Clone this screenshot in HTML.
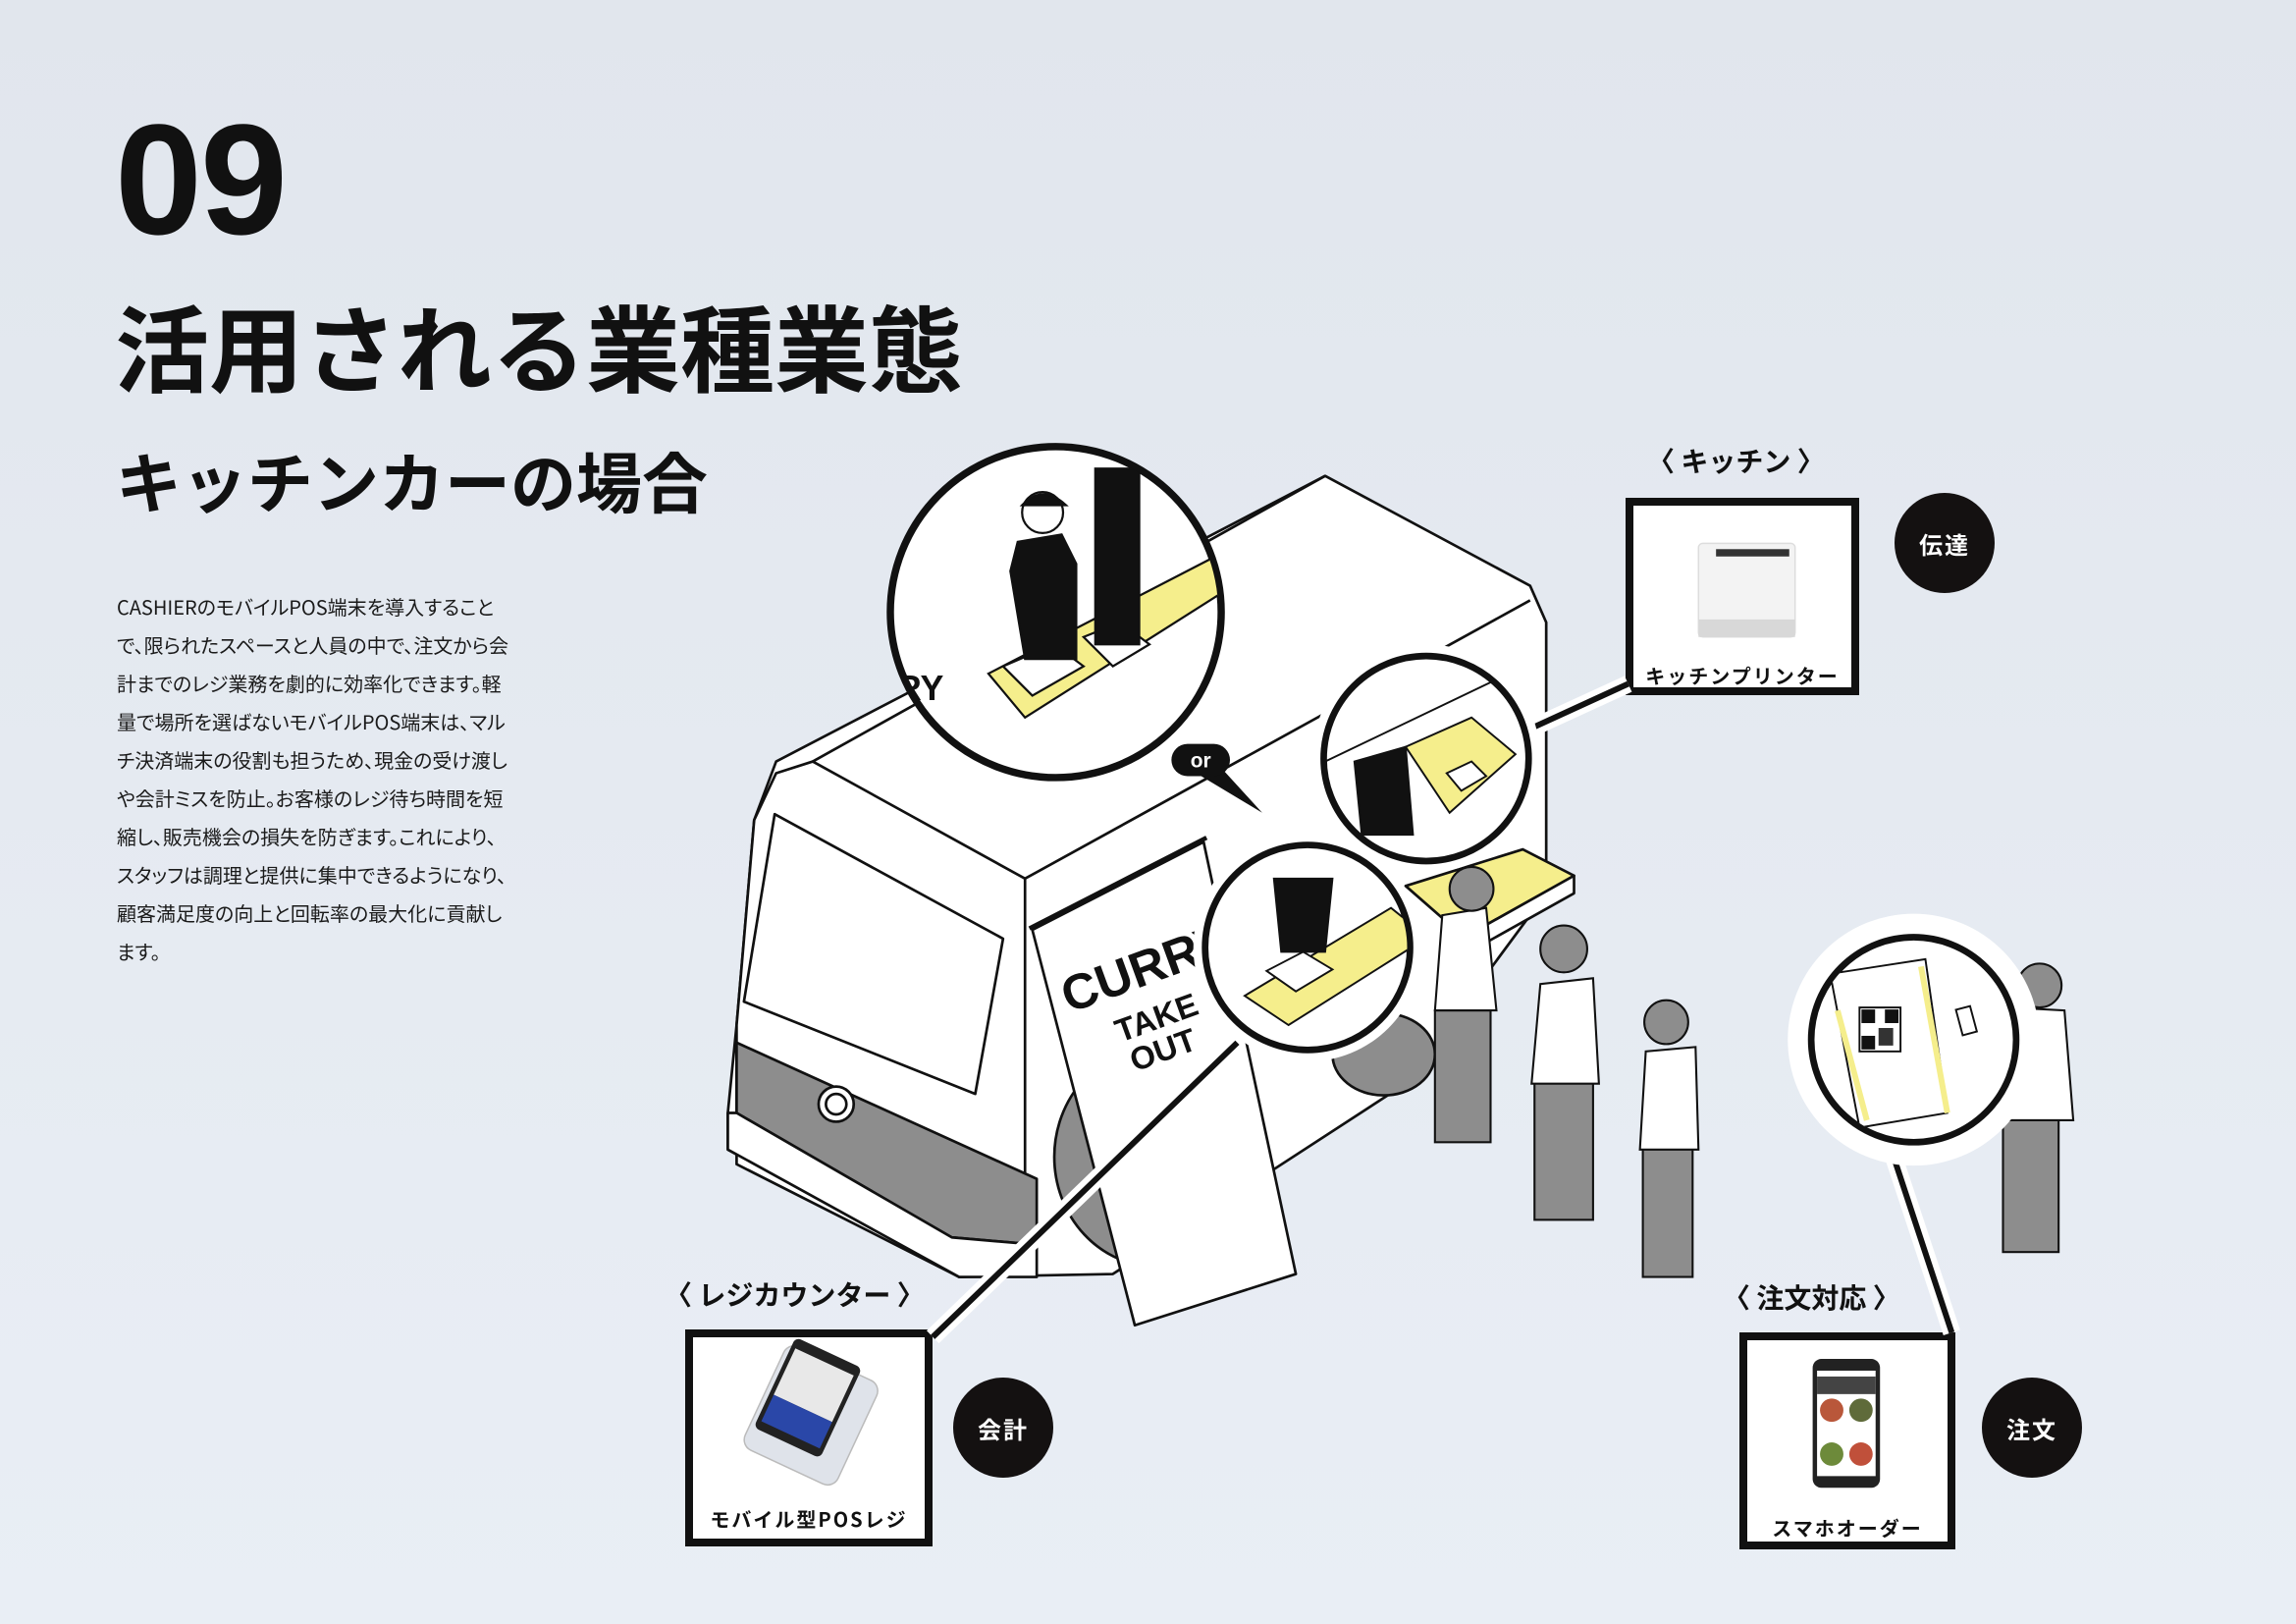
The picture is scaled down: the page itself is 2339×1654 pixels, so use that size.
<!DOCTYPE html>
<html><head><meta charset="utf-8">
<style>
html,body{margin:0;padding:0}
body{width:2339px;height:1654px;position:relative;overflow:hidden;background:linear-gradient(180deg,#e1e6ed 0%,#e6ebf2 60%,#e9eef5 100%);font-family:"Liberation Sans","Noto Sans CJK JP",sans-serif;color:#111}
.a{position:absolute;white-space:nowrap;line-height:1}
.jp{font-family:"Noto Sans CJK JP","Liberation Sans",sans-serif}
.body{position:absolute;left:119px;top:598px;font-size:20px;line-height:39px;letter-spacing:0px;color:#1a1a1a;font-feature-settings:"palt";white-space:nowrap}
.box{position:absolute;background:#fff;border:8px solid #111;box-sizing:border-box;z-index:1}
.cap{position:absolute;left:0;right:0;text-align:center;font-weight:700;font-size:20px;letter-spacing:2px}
.lab{font-size:28px;font-weight:700}
.dot{position:absolute;width:102px;height:102px;border-radius:50%;background:#141111;color:#fff;font-size:24px;font-weight:700;display:flex;align-items:center;justify-content:center;letter-spacing:2px}
svg{position:absolute;left:0;top:0;z-index:2}
</style></head><body>
<div class="box" style="left:1656px;top:507px;width:238px;height:201px"><div class="cap jp" style="top:158px">キッチンプリンター</div></div>
<div class="box" style="left:698px;top:1354px;width:252px;height:221px"><div class="cap jp" style="top:170px">モバイル型POSレジ</div></div>
<div class="box" style="left:1772px;top:1357px;width:220px;height:221px"><div class="cap jp" style="top:176px">スマホオーダー</div></div>
<svg width="2339" height="1654" viewBox="0 0 1568 1109">
<g stroke="#111" stroke-width="1.8" stroke-linejoin="round">
<polygon fill="#fff" points="530,520 905,325 1045,400 1056,425 1056,610 960,740 760,870 655,872 497,785 497,760 503,700 515,560"/>
<polygon fill="#fff" points="515,560 530,528 555,520 700,600 700,870 655,872 503,795 503,700"/>
<polygon fill="#fff" points="529,556 685,641 666,747 508,684"/>
<polygon fill="#8d8d8d" points="503,712 708,805 708,850 650,845 503,760"/>
<polygon fill="#fff" points="497,760 503,760 650,845 708,850 708,872 655,872 497,785"/>
<circle cx="571" cy="754" r="12" fill="#fff"/><circle cx="571" cy="754" r="7" fill="#fff"/>
<line x1="555" y1="520" x2="905" y2="325"/>
<line x1="700" y1="600" x2="1045" y2="410"/>
<ellipse cx="790" cy="790" rx="70" ry="75" fill="#8d8d8d"/>
<ellipse cx="800" cy="780" rx="55" ry="60" fill="#fff"/>
<ellipse cx="945" cy="720" rx="35" ry="28" fill="#8d8d8d"/>
<polygon fill="#f5ee8c" points="960,605 1040,580 1075,598 1000,640"/>
<polygon fill="#fff" points="1000,640 1075,598 1075,610 1000,652"/>
<polygon fill="#fff" points="705,635 822,575 885,870 775,905"/>
<line x1="703" y1="634" x2="824" y2="572" stroke-width="3"/>
</g>
<g font-family="Liberation Sans,sans-serif" font-weight="700" fill="#111">
<text x="730" y="692" font-size="34" transform="rotate(-20 730 692)">CURRY</text>
<text x="765" y="712" font-size="22" transform="rotate(-20 765 712)">TAKE</text>
<text x="775" y="732" font-size="22" transform="rotate(-20 775 732)">OUT</text>
</g>
<g stroke="#111" stroke-width="1.4">
<g><rect x="980" y="690" width="38" height="90" fill="#8d8d8d"/><path d="M980 690 L985 625 L1015 620 L1022 690Z" fill="#fff"/><circle cx="1005" cy="607" r="15" fill="#8d8d8d"/></g>
<g><rect x="1048" y="738" width="40" height="95" fill="#8d8d8d"/><path d="M1046 740 L1052 672 L1088 668 L1092 740Z" fill="#fff"/><circle cx="1068" cy="648" r="16" fill="#8d8d8d"/></g>
<g><rect x="1122" y="782" width="34" height="90" fill="#8d8d8d"/><path d="M1120 785 L1124 718 L1158 715 L1160 785Z" fill="#fff"/><circle cx="1138" cy="698" r="15" fill="#8d8d8d"/></g>
<g><rect x="1368" y="760" width="38" height="95" fill="#8d8d8d"/><path d="M1366 765 L1372 688 L1410 690 L1416 765Z" fill="#fff"/><circle cx="1393" cy="673" r="15" fill="#8d8d8d"/></g>
</g>
<g stroke-linecap="butt">
<line x1="1040" y1="500" x2="1112" y2="467" stroke="#fff" stroke-width="12"/>
<line x1="1040" y1="500" x2="1112" y2="467" stroke="#111" stroke-width="4"/>
<line x1="845" y1="712" x2="637" y2="913" stroke="#fff" stroke-width="12"/>
<line x1="845" y1="712" x2="637" y2="913" stroke="#111" stroke-width="4"/>
<line x1="1290" y1="780" x2="1333" y2="910" stroke="#fff" stroke-width="12"/>
<line x1="1290" y1="780" x2="1333" y2="910" stroke="#111" stroke-width="4"/>
</g>
<polygon points="830,520 862,555 812,525" fill="#111"/>
<rect x="800" y="508" width="40" height="22" rx="11" fill="#111"/>
<text x="820" y="524" font-family="Liberation Sans,sans-serif" font-weight="700" font-size="14" fill="#fff" text-anchor="middle">or</text>
<circle cx="721" cy="418" r="113" fill="#fff" stroke="#111" stroke-width="5"/>
<clipPath id="c1"><circle cx="721" cy="418" r="111"/></clipPath>
<g clip-path="url(#c1)" stroke="#111" stroke-width="1.5">
<polygon points="675,460 830,380 850,395 700,490" fill="#f5ee8c"/>
<polygon points="685,455 720,440 740,455 705,475" fill="#fff"/>
<polygon points="740,435 765,425 785,440 760,455" fill="#fff"/>
<path d="M690 390 L695 370 L725 365 L735 385 L735 450 L700 450Z" fill="#111"/>
<circle cx="712" cy="350" r="14" fill="#fff"/>
<path d="M698 345 Q712 330 728 345Z" fill="#111"/>
<rect x="748" y="320" width="30" height="120" fill="#111"/>
<text x="612" y="478" font-family="Liberation Sans,sans-serif" font-weight="700" font-size="24" fill="#111" stroke="none">RY</text>
</g>
<circle cx="974" cy="518" r="78" fill="#fff"/>
<circle cx="974" cy="518" r="70" fill="#fff" stroke="#111" stroke-width="4.5"/>
<clipPath id="c2"><circle cx="974" cy="518" r="68"/></clipPath>
<g clip-path="url(#c2)" stroke="#111" stroke-width="1.3">
<polygon points="960,510 1005,490 1035,515 990,555" fill="#f5ee8c"/>
<path d="M925 520 L960 510 L965 570 L930 570Z" fill="#111"/>
<polygon points="988,528 1005,520 1015,530 998,540" fill="#fff"/>
<line x1="905" y1="520" x2="1020" y2="465"/>
</g>
<circle cx="893" cy="647" r="78" fill="#fff"/>
<circle cx="893" cy="647" r="70" fill="#fff" stroke="#111" stroke-width="4.5"/>
<clipPath id="c3"><circle cx="893" cy="647" r="68"/></clipPath>
<g clip-path="url(#c3)" stroke="#111" stroke-width="1.3">
<polygon points="850,680 950,620 975,640 880,700" fill="#f5ee8c"/>
<polygon points="865,663 890,650 910,662 885,677" fill="#fff"/>
<path d="M870 600 L910 600 L905 650 L875 650Z" fill="#111"/>
</g>
<circle cx="1307" cy="710" r="86" fill="#fff"/>
<circle cx="1307" cy="710" r="70" fill="#fff" stroke="#111" stroke-width="4.5"/>
<clipPath id="c4"><circle cx="1307" cy="710" r="68"/></clipPath>
<g clip-path="url(#c4)" stroke="#111" stroke-width="1.3">
<polygon points="1250,665 1315,655 1330,760 1270,770" fill="#fff"/>
<line x1="1255" y1="690" x2="1275" y2="765" stroke="#f5ee8c" stroke-width="4"/>
<line x1="1312" y1="660" x2="1330" y2="760" stroke="#f5ee8c" stroke-width="4"/>
<rect x="1270" y="688" width="28" height="30" fill="#fff"/>
<rect x="1272" y="690" width="8" height="8" fill="#111"/><rect x="1288" y="690" width="8" height="8" fill="#111"/><rect x="1272" y="708" width="8" height="8" fill="#111"/>
<rect x="1283" y="702" width="10" height="12" fill="#333" stroke="none"/>
<rect x="1338" y="688" width="10" height="18" fill="#fff" transform="rotate(-15 1343 697)"/>
</g>
<rect x="1160" y="371" width="66" height="64" rx="3" fill="#f3f3f3" stroke="#ddd"/>
<rect x="1172" y="375" width="50" height="5" fill="#333"/>
<rect x="1160" y="423" width="66" height="12" fill="#d8d8d8"/>
<g transform="rotate(25 560 965)">
<rect x="520" y="930" width="70" height="78" rx="8" fill="#dfe3ea" stroke="#bbb"/>
<rect x="523" y="925" width="50" height="68" rx="4" fill="#222"/>
<rect x="526" y="932" width="44" height="35" fill="#e8e8e8"/>
<rect x="526" y="967" width="44" height="20" fill="#2a47a8"/>
</g>
<rect x="1238" y="928" width="46" height="88" rx="6" fill="#222"/>
<rect x="1241" y="936" width="40" height="72" fill="#fff"/>
<rect x="1241" y="940" width="40" height="12" fill="#444"/>
<circle cx="1251" cy="963" r="8" fill="#b9573a"/><circle cx="1271" cy="963" r="8" fill="#5f6b3a"/>
<circle cx="1251" cy="993" r="8" fill="#6d8a3a"/><circle cx="1271" cy="993" r="8" fill="#c0503a"/>
</svg>

<div class="a" style="left:117px;top:103px;font-size:160px;font-weight:700;letter-spacing:-2px">09</div>
<div class="a jp" style="left:117px;top:303px;font-size:96px;font-weight:700">活用される業種業態</div>
<div class="a jp" style="left:118px;top:455px;font-size:67px;font-weight:700">キッチンカーの場合</div>
<div class="body jp">CASHIERのモバイルPOS端末を導入すること<br>で、限られたスペースと人員の中で、注文から会<br>計までのレジ業務を劇的に効率化できます。軽<br>量で場所を選ばないモバイルPOS端末は、マル<br>チ決済端末の役割も担うため、現金の受け渡し<br>や会計ミスを防止。お客様のレジ待ち時間を短<br>縮し、販売機会の損失を防ぎます。これにより、<br>スタッフは調理と提供に集中できるようになり、<br>顧客満足度の向上と回転率の最大化に貢献し<br>ます。</div>

<div class="a jp lab" style="left:1678px;top:455px">〈 キッチン 〉</div>
<div class="dot jp" style="left:1930px;top:502px">伝達</div>
<div class="a jp lab" style="left:677px;top:1304px">〈 レジカウンター 〉</div>
<div class="dot jp" style="left:971px;top:1403px">会計</div>
<div class="a jp lab" style="left:1755px;top:1307px">〈 注文対応 〉</div>
<div class="dot jp" style="left:2019px;top:1403px">注文</div>
</body></html>
